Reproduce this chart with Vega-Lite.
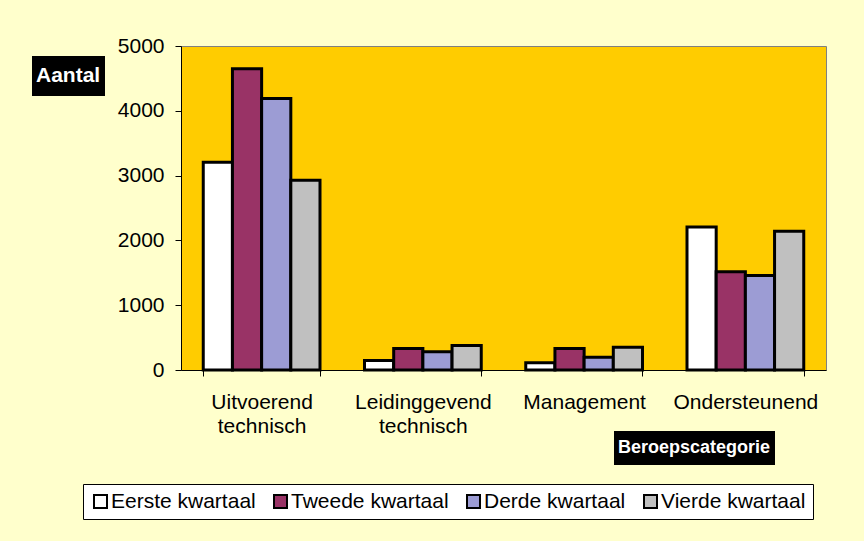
{
  "$schema": "https://vega.github.io/schema/vega-lite/v6.json",
  "width": 645,
  "height": 324,
  "autosize": {"type": "none"},
  "padding": {"left": 181, "top": 46, "right": 38, "bottom": 171},
  "background": "#FFFFCC",
  "view": {"fill": "#FFCC00", "stroke": "#808080", "strokeWidth": 1},
  "config": {
    "font": "Liberation Sans",
    "view": {"fill": "#FFCC00", "stroke": "#808080", "strokeWidth": 1}
  },
  "data": {
    "values": [
      {"categorie": "Uitvoerend technisch", "kwartaal": "Eerste kwartaal", "aantal": 3205},
      {"categorie": "Uitvoerend technisch", "kwartaal": "Tweede kwartaal", "aantal": 4650},
      {"categorie": "Uitvoerend technisch", "kwartaal": "Derde kwartaal", "aantal": 4190},
      {"categorie": "Uitvoerend technisch", "kwartaal": "Vierde kwartaal", "aantal": 2930},
      {"categorie": "Leidinggevend technisch", "kwartaal": "Eerste kwartaal", "aantal": 145},
      {"categorie": "Leidinggevend technisch", "kwartaal": "Tweede kwartaal", "aantal": 330},
      {"categorie": "Leidinggevend technisch", "kwartaal": "Derde kwartaal", "aantal": 280},
      {"categorie": "Leidinggevend technisch", "kwartaal": "Vierde kwartaal", "aantal": 380},
      {"categorie": "Management", "kwartaal": "Eerste kwartaal", "aantal": 110},
      {"categorie": "Management", "kwartaal": "Tweede kwartaal", "aantal": 330},
      {"categorie": "Management", "kwartaal": "Derde kwartaal", "aantal": 195},
      {"categorie": "Management", "kwartaal": "Vierde kwartaal", "aantal": 350},
      {"categorie": "Ondersteunend", "kwartaal": "Eerste kwartaal", "aantal": 2205},
      {"categorie": "Ondersteunend", "kwartaal": "Tweede kwartaal", "aantal": 1515},
      {"categorie": "Ondersteunend", "kwartaal": "Derde kwartaal", "aantal": 1460},
      {"categorie": "Ondersteunend", "kwartaal": "Vierde kwartaal", "aantal": 2140}
    ]
  },
  "layer": [
    {
      "mark": {"type": "bar", "stroke": "#000000", "strokeWidth": 3},
      "encoding": {
        "x": {
          "field": "categorie",
          "type": "nominal",
          "sort": ["Uitvoerend technisch", "Leidinggevend technisch", "Management", "Ondersteunend"],
          "scale": {"paddingInner": 0.276, "paddingOuter": 0.138},
          "axis": {
            "title": null,
            "labelAngle": 0,
            "labelExpr": "split(datum.label, ' ')",
            "labelFontSize": 21,
            "labelLineHeight": 24,
            "labelColor": "#000000",
            "labelPadding": 15,
            "tickBand": "extent",
            "tickSize": 6,
            "tickColor": "#000000",
            "domainColor": "#000000",
            "labelLimit": 300
          }
        },
        "xOffset": {
          "field": "kwartaal",
          "type": "nominal",
          "sort": ["Eerste kwartaal", "Tweede kwartaal", "Derde kwartaal", "Vierde kwartaal"],
          "scale": {"paddingInner": 0, "paddingOuter": 0}
        },
        "y": {
          "field": "aantal",
          "type": "quantitative",
          "scale": {"domain": [0, 5000], "nice": false},
          "axis": {
            "title": null,
            "values": [0, 1000, 2000, 3000, 4000, 5000],
            "format": "d",
            "grid": false,
            "labelFontSize": 21,
            "labelColor": "#000000",
            "labelPadding": 11,
            "tickSize": 6,
            "tickColor": "#000000",
            "domainColor": "#000000"
          }
        },
        "fill": {
          "field": "kwartaal",
          "type": "nominal",
          "sort": ["Eerste kwartaal", "Tweede kwartaal", "Derde kwartaal", "Vierde kwartaal"],
          "scale": {
            "domain": ["Eerste kwartaal", "Tweede kwartaal", "Derde kwartaal", "Vierde kwartaal"],
            "range": ["#FFFFFF", "#993366", "#9C9CD4", "#C0C0C0"]
          },
          "legend": {
            "title": null,
            "orient": "none",
            "legendX": -98,
            "legendY": 438,
            "direction": "horizontal",
            "columns": 4,
            "fillColor": "#FFFFFF",
            "strokeColor": "#000000",
            "padding": 7,
            "symbolType": "square",
            "symbolSize": 169,
            "symbolStrokeColor": "#000000",
            "symbolStrokeWidth": 2,
            "labelFontSize": 21,
            "labelColor": "#000000",
            "labelOffset": 0,
            "columnPadding": 14,
            "labelLimit": 300
          }
        }
      }
    },
    {
      "mark": {"type": "point", "opacity": 0, "filled": true},
      "encoding": {
        "shape": {
          "datum": "Aantal",
          "type": "nominal",
          "legend": {
            "title": null,
            "orient": "none",
            "legendX": -149,
            "legendY": 10,
            "fillColor": "#000000",
            "padding": 4,
            "symbolSize": 1024,
            "symbolOpacity": 0,
            "symbolStrokeWidth": 0,
            "labelOffset": -32,
            "labelColor": "#FFFFFF",
            "labelFontSize": 21,
            "labelFontWeight": "bold",
            "labelLimit": 300
          }
        }
      }
    },
    {
      "mark": {"type": "point", "opacity": 0},
      "encoding": {
        "stroke": {
          "datum": "Beroepscategorie",
          "type": "nominal",
          "legend": {
            "title": null,
            "orient": "none",
            "legendX": 433,
            "legendY": 385,
            "fillColor": "#000000",
            "padding": 4,
            "symbolSize": 676,
            "symbolOpacity": 0,
            "symbolStrokeWidth": 0,
            "labelOffset": -26,
            "labelColor": "#FFFFFF",
            "labelFontSize": 18,
            "labelFontWeight": "bold",
            "labelLimit": 300
          }
        }
      }
    }
  ]
}
